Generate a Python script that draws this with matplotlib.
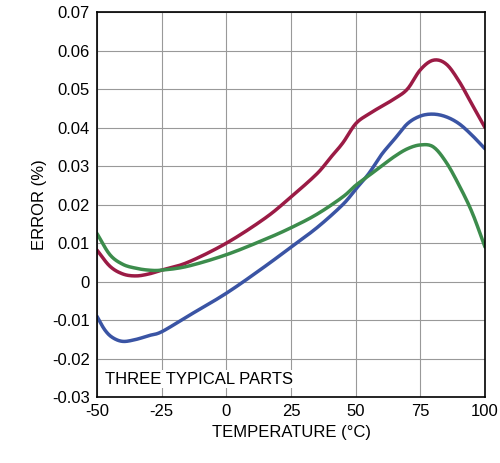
import matplotlib
matplotlib.use("Agg")
import matplotlib.pyplot as plt
import numpy as np

plt.rcParams['font.family'] = ['Liberation Sans Narrow', 'Liberation Sans', 'DejaVu Sans']

# Temperature (C) and error (%)
red_t = [-50, -45, -40, -35, -30, -25, -15, 0, 15, 25, 35, 40, 45, 50, 55, 60, 65, 70, 75, 80, 85, 90, 95, 100]
red_e = [0.0082, 0.004, 0.002, 0.0015, 0.002, 0.003, 0.005, 0.010, 0.0165, 0.022, 0.028, 0.032, 0.036, 0.041, 0.0435, 0.0455, 0.0475, 0.050, 0.055, 0.0575, 0.0565, 0.052, 0.046, 0.040]
blue_t = [-50, -47, -44, -40, -35, -30, -25, -15, 0, 15, 25, 35, 45, 50, 55, 60, 65, 70, 75, 80, 85, 90, 95, 100]
blue_e = [-0.009, -0.0125, -0.0145, -0.0155, -0.015, -0.014, -0.013, -0.009, -0.003, 0.004, 0.009, 0.014, 0.020, 0.024, 0.028, 0.033, 0.037, 0.041, 0.043, 0.0435, 0.0428, 0.041, 0.038, 0.0345]
green_t = [-50, -45, -40, -35, -30, -25, -15, 0, 15, 25, 35, 45, 50, 55, 60, 65, 70, 75, 80, 85, 90, 95, 100]
green_e = [0.0125, 0.007, 0.0045, 0.0035, 0.003, 0.003, 0.004, 0.007, 0.011, 0.014, 0.0175, 0.022, 0.025, 0.0275, 0.030, 0.0325, 0.0345, 0.0355, 0.035, 0.031, 0.025, 0.018, 0.009]

xticks = [-50, -25, 0, 25, 50, 75, 100]
yticks = [-0.03, -0.02, -0.01, 0, 0.01, 0.02, 0.03, 0.04, 0.05, 0.06, 0.07]


def smooth(t, e, n=12):
    # Catmull-Rom through the read points, only for drawing
    p = np.column_stack([t, e])
    p = np.vstack([2 * p[0] - p[1], p, 2 * p[-1] - p[-2]])
    out = []
    s = np.linspace(0, 1, n, endpoint=False)[:, None]
    for i in range(1, len(p) - 2):
        p0, p1, p2, p3 = p[i - 1], p[i], p[i + 1], p[i + 2]
        out.append(0.5 * (2 * p1 + (-p0 + p2) * s + (2 * p0 - 5 * p1 + 4 * p2 - p3) * s ** 2
                          + (-p0 + 3 * p1 - 3 * p2 + p3) * s ** 3))
    out.append(p[-2][None, :])
    out = np.vstack(out)
    return out[:, 0], out[:, 1]


fig = plt.figure(figsize=(5.0, 4.63), dpi=100)
ax = fig.add_axes([0.194, 0.142, 0.776, 0.832])

for t, e, c in [(red_t, red_e, '#9b1b45'), (blue_t, blue_e, '#3a54a4'), (green_t, green_e, '#3c8c4c')]:
    x, y = smooth(t, e)
    ax.plot(x, y, color=c, lw=2.5, solid_capstyle='round')

ax.set_xlim(-50, 100)
ax.set_ylim(-0.03, 0.07)
ax.set_xticks(xticks)
ax.set_yticks(yticks)
ax.set_xticklabels([str(t) for t in xticks])
ax.set_yticklabels(['%g' % round(v, 2) for v in yticks])
ax.grid(True, color='#999999', lw=0.8)
ax.tick_params(length=0, labelsize=12, pad=5)
for s in ax.spines.values():
    s.set_linewidth(1.2)

ax.set_xlabel('TEMPERATURE (°C)', fontsize=12)
ax.set_ylabel('ERROR (%)', fontsize=12)
ax.text(-47, -0.0265, 'THREE TYPICAL PARTS', fontsize=12,
        bbox=dict(facecolor='white', edgecolor='none', pad=1))

fig.savefig('out.png', dpi=100)
